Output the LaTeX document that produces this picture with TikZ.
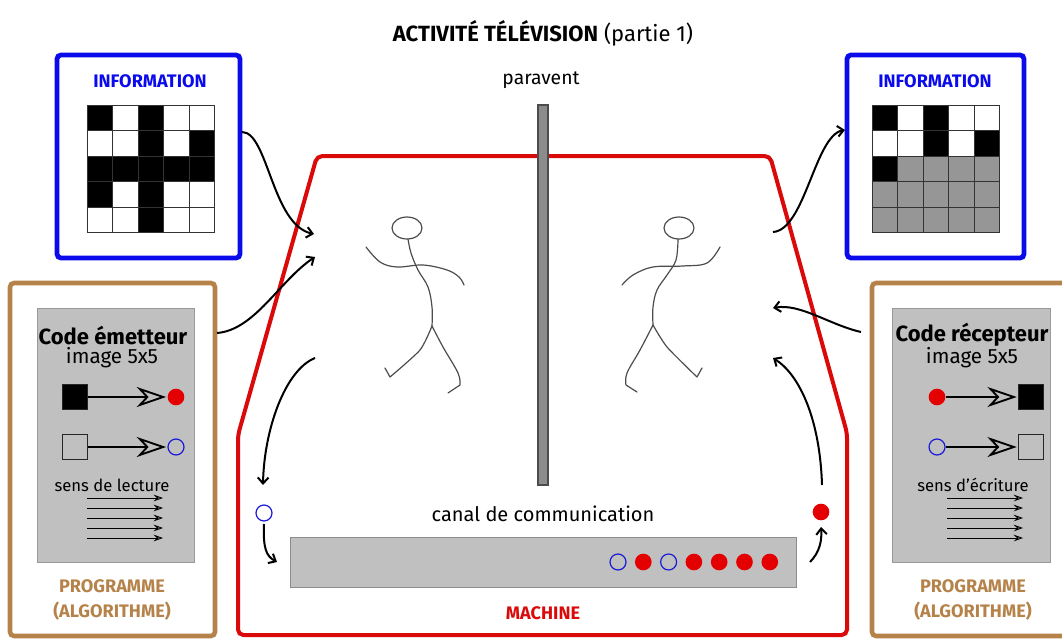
\documentclass[tikz,border=0pt]{standalone}
\usepackage{fontspec}
\setmainfont{Fira Sans}
\usetikzlibrary{arrows.meta}

\definecolor{infobleu}{RGB}{10,10,235}
\definecolor{progbrun}{RGB}{181,131,74}
\definecolor{machrouge}{RGB}{218,10,10}
\definecolor{pointrouge}{RGB}{228,0,0}
\definecolor{cerclebleu}{RGB}{25,25,215}
\definecolor{fondgris}{RGB}{192,192,192}
\definecolor{grisgrille}{RGB}{150,150,150}
\definecolor{grisparavent}{RGB}{140,140,140}

\newcommand{\taille}[1]{\fontsize{#1}{1.2\dimexpr#1\relax}\selectfont}

\tikzset{
  cadreinfo/.style={draw=infobleu, line width=3.6pt, rounded corners=3pt},
  cadreprog/.style={draw=progbrun, line width=3.4pt, rounded corners=3pt},
  machine/.style={draw=machrouge, line width=3pt, rounded corners=4pt},
  panneau/.style={fill=fondgris, draw=gray!80, line width=0.5pt},
  flux/.style={-{Straight Barb[length=4.5pt, width=8pt]}, line width=1.5pt, black},
  regle/.style={-{Stealth[open, length=22pt, width=15pt, inset=7pt]}, line width=1.4pt, shorten >=1pt},
  lecture/.style={-{Stealth[open, length=7pt, width=5pt, inset=2.5pt]}, line width=0.7pt},
  silhouette/.style={draw=black!70, line width=0.9pt, line cap=round, line join=round},
  plein/.style={circle, fill=pointrouge, inner sep=0pt, minimum size=12.5pt},
  vide/.style={circle, draw=cerclebleu, line width=0.9pt, inner sep=0pt, minimum size=12pt},
  carre/.style={draw=black!85, line width=0.9pt, inner sep=0pt, minimum size=18.5pt},
  grille/.style={draw=black!80, line width=0.6pt},
  legende/.style={progbrun, align=center, font=\taille{13.6pt}\bfseries},
}

\begin{document}
\begin{tikzpicture}[x=0.75pt, y=-0.75pt]
  \useasboundingbox (0,0) rectangle (1062,638);

  % --- 1. titre ---
  \node (titre) at (543,33) {\taille{16.5pt}\textbf{ACTIVITÉ TÉLÉVISION} (partie 1)};
  \node (paravent) at (541,80) {\taille{14.5pt}paravent};

  % --- 2. information (image 5x5) ---
  \def\cel{25.5}
  \draw[cadreinfo] (57,55) rectangle (240,258);
  \draw[cadreinfo] (847,55) rectangle (1024,258);
  \node[infobleu] (info1) at (150,81) {\taille{13.6pt}\textbf{INFORMATION}};
  \node[infobleu] (info2) at (935,81) {\taille{13.6pt}\textbf{INFORMATION}};

  % image envoyée
  \begin{scope}[shift={(87,105)}]
    \foreach \c/\r in {0/0,2/0,2/1,4/1,0/2,1/2,2/2,3/2,4/2,0/3,2/3,2/4}
      \fill[black] (\c*\cel,\r*\cel) rectangle ++(\cel,\cel);
    \foreach \i in {0,...,5} {
      \draw[grille] (\i*\cel,0) -- (\i*\cel,5*\cel);
      \draw[grille] (0,\i*\cel) -- (5*\cel,\i*\cel);
    }
  \end{scope}

  % image reçue (en cours)
  \begin{scope}[shift={(872,105)}]
    \foreach \c/\r in {0/0,2/0,2/1,4/1,0/2}
      \fill[black] (\c*\cel,\r*\cel) rectangle ++(\cel,\cel);
    \foreach \c/\r in {1/2,2/2,3/2,4/2,0/3,1/3,2/3,3/3,4/3,0/4,1/4,2/4,3/4,4/4}
      \fill[grisgrille] (\c*\cel,\r*\cel) rectangle ++(\cel,\cel);
    \foreach \i in {0,...,5} {
      \draw[grille] (\i*\cel,0) -- (\i*\cel,5*\cel);
      \draw[grille] (0,\i*\cel) -- (5*\cel,\i*\cel);
    }
  \end{scope}

  % --- 3. programmes ---
  \draw[cadreprog] (10,283) rectangle (215,636);
  \draw[cadreprog] (872,283) rectangle (1085,636);
  \draw[panneau] (37,308) rectangle (194,562);
  \draw[panneau] (892,308) rectangle (1050,562);

  % émetteur
  \node (codeE) at (113,335) {\taille{16.5pt}\textbf{Code émetteur}};
  \node (imgE) at (112,358) {\taille{15.5pt}image 5x5};
  \node[carre, fill=black] (noirE) at (75,397) {};
  \node[plein] (rougeE) at (176,397) {};
  \node[carre] (blancE) at (75,447) {};
  \node[vide] (bleuE) at (176,447) {};
  \draw[regle] (noirE) -- (rougeE);
  \draw[regle] (blancE) -- (bleuE);
  \node (sensE) at (112,485) {\taille{12.5pt}sens de lecture};
  \foreach \y in {498,508,518,528,538}
    \draw[lecture] (87,\y) -- (163,\y);
  \node[legende] (progE) at (112,600) {PROGRAMME\\[2pt](ALGORITHME)};

  % récepteur
  \node (codeR) at (972,335) {\taille{16.5pt}\textbf{Code récepteur}};
  \node (imgR) at (972,358) {\taille{15.5pt}image 5x5};
  \node[plein] (rougeR) at (937,397) {};
  \node[carre, fill=black] (noirR) at (1031,397) {};
  \node[vide] (bleuR) at (937,447) {};
  \node[carre] (blancR) at (1031,447) {};
  \draw[regle] (rougeR) -- (noirR);
  \draw[regle] (bleuR) -- (blancR);
  \node (sensR) at (973,485) {\taille{12.5pt}sens d’écriture};
  \foreach \y in {498,508,518,528,538}
    \draw[lecture] (947,\y) -- (1023,\y);
  \node[legende] (progR) at (973,600) {PROGRAMME\\[2pt](ALGORITHME)};

  % --- 4. machine ---
  \draw[machine] (238,635) -- (238,435) -- (317,156) -- (770,156)
    -- (847,433) -- (847,635) -- cycle;
  \draw[fill=grisparavent, draw=black!70, line width=0.8pt] (538,105) rectangle (548,485);
  \node[machrouge] (machine) at (543,613) {\taille{13.6pt}\textbf{MACHINE}};

  % canal
  \node (canal) at (543,514) {\taille{15pt}canal de communication};
  \draw[fill=fondgris, draw=gray!90, line width=0.5pt] (290,537) rectangle (796,587);
  \foreach \k/\s in {0/vide,1/plein,2/vide,3/plein,4/plein,5/plein,6/plein}
    \node[\s] (bit\k) at (618+25.3*\k,562) {};
  \node[vide] (entree) at (264,513) {};
  \node[plein] (sortie) at (821,512) {};

  % --- 5. personnages ---
  % émetteur
  \draw[silhouette] (407,228) ellipse (15 and 11);
  \draw[silhouette] plot[smooth, tension=0.6] coordinates
    {(408,239) (411,253) (418,270) (428,287) (432,307) (432,326)};
  \draw[silhouette] plot[smooth, tension=0.6] coordinates
    {(366,247) (380,262) (397,267) (423,265) (447,270) (459,277) (464,285)};
  \draw[silhouette] plot[smooth, tension=0.4] coordinates
    {(432,326) (420,350) (390,377)} -- (385,368);
  \draw[silhouette] plot[smooth, tension=0.6] coordinates
    {(432,326) (443,347) (458,373) (460,385)} -- (448,393);
  % récepteur
  \draw[silhouette] (679,228) ellipse (15 and 11);
  \draw[silhouette] plot[smooth, tension=0.6] coordinates
    {(678,239) (676,260) (667,275) (657,290) (653,307) (653,325)};
  \draw[silhouette] plot[smooth, tension=0.6] coordinates
    {(622,285) (633,275) (653,267) (683,266) (707,263) (720,247)};
  \draw[silhouette] plot[smooth, tension=0.6] coordinates
    {(653,325) (640,350) (627,373) (626,385)} -- (637,392);
  \draw[silhouette] plot[smooth, tension=0.4] coordinates
    {(653,325) (667,347) (697,377)} -- (702,368);

  % --- 6. flèches ---
  \coordinate (infoE) at (242,132);
  \coordinate (progEs) at (217,333);
  \coordinate (persE1) at (314,234);
  \coordinate (persE2) at (315,257);
  \coordinate (persE3) at (315,358);
  \coordinate (versBit) at (263,485);
  \coordinate (canalG) at (264,524);
  \coordinate (canalG2) at (277,562);
  \coordinate (canalD) at (810,562);
  \coordinate (sortieB) at (821,527);
  \coordinate (sortieH) at (822,485);
  \coordinate (persR1) at (773,232);
  \coordinate (persR2) at (773,308);
  \coordinate (persR3) at (773,358);
  \coordinate (progRs) at (861,332);
  \coordinate (infoR) at (845,130);

  \draw[flux] (infoE) .. controls (268,132) and (272,225) .. (persE1);
  \draw[flux] (progEs) .. controls (255,330) and (280,280) .. (persE2);
  \draw[flux] (persE3) .. controls (285,370) and (264,430) .. (versBit);
  \draw[flux] (canalG) .. controls (263,548) and (266,556) .. (canalG2);
  \draw[flux] (canalD) .. controls (820,552) and (822,540) .. (sortieB);
  \draw[flux] (sortieH) .. controls (820,420) and (800,375) .. (persR3);
  \draw[flux] (progRs) .. controls (830,325) and (800,303) .. (persR2);
  \draw[flux] (persR1) .. controls (805,230) and (815,135) .. (infoR);

\end{tikzpicture}
\end{document}
